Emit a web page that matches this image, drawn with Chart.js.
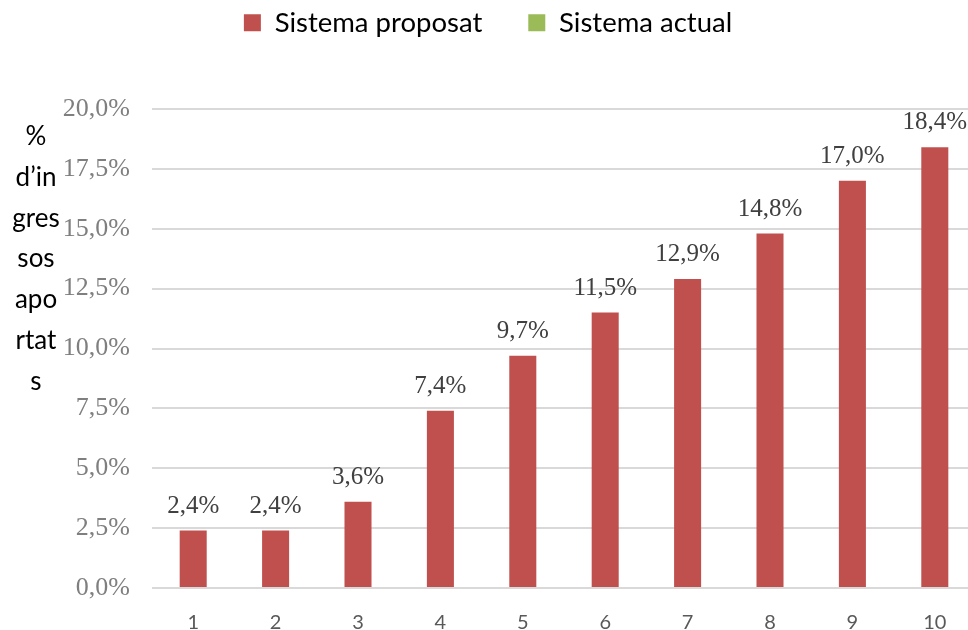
<!DOCTYPE html>
<html>
<head>
<meta charset="utf-8">
<script src="https://cdn.jsdelivr.net/npm/chart.js@4/dist/chart.umd.min.js"></script>
<style>
html,body{margin:0;padding:0;background:#fff;overflow:hidden;}
#wrap{position:relative;width:976px;height:630px;}
</style>
</head>
<body>
<div id="wrap"><canvas id="c"></canvas></div>
<script>
const categories = ['1','2','3','4','5','6','7','8','9','10'];
const proposat = [2.4, 2.4, 3.6, 7.4, 9.7, 11.5, 12.9, 14.8, 17.0, 18.4];
const actual = [null, null, null, null, null, null, null, null, null, null];
const seriesNames = ['Sistema proposat', 'Sistema actual'];
const yTitleLines = ['%', 'd\u2019in', 'gres', 'sos', 'apo', 'rtat', 's'];

const fmt = v => v.toFixed(1).replace('.', ',') + '%';

const legendFix = {
  id: 'legendFix',
  beforeInit(chart) {
    const fit = chart.legend.fit;
    chart.legend.fit = function () {
      fit.call(this);
      this.height = 109;
    };
  },
  beforeDraw(chart) {
    chart.legend.top = -37;
  }
};

const yTitle = {
  id: 'yTitle',
  afterDraw(chart) {
    const ctx = chart.ctx;
    ctx.save();
    ctx.font = '26px Lato';
    ctx.fillStyle = '#000000';
    ctx.textAlign = 'center';
    ctx.textBaseline = 'alphabetic';
    yTitleLines.forEach((t, i) => ctx.fillText(t, 36, 145 + i * 40.8));
    ctx.restore();
  }
};

const dataLabels = {
  id: 'dataLabels',
  afterDatasetsDraw(chart) {
    const ctx = chart.ctx;
    ctx.save();
    ctx.font = '25px "Liberation Serif"';
    ctx.fillStyle = '#404040';
    ctx.textAlign = 'center';
    ctx.textBaseline = 'alphabetic';
    const meta = chart.getDatasetMeta(0);
    meta.data.forEach((bar, i) => {
      const v = chart.data.datasets[0].data[i];
      if (v == null) return;
      ctx.fillText(fmt(v), bar.x, bar.y - 18);
    });
    ctx.restore();
  }
};

new Chart(document.getElementById('c'), {
  type: 'bar',
  data: {
    labels: categories,
    datasets: [
      { label: seriesNames[0], data: proposat, backgroundColor: '#c0504d', borderWidth: 0 },
      { label: seriesNames[1], data: actual, backgroundColor: '#9bbb59', borderWidth: 0 }
    ]
  },
  options: {
    responsive: true,
    maintainAspectRatio: false,
    animation: false,
    grouped: false,
    categoryPercentage: 0.8,
    barPercentage: 0.41,
    layout: { padding: 0 },
    plugins: {
      tooltip: { enabled: false },
      legend: {
        position: 'top',
        labels: {
          boxWidth: 17,
          boxHeight: 17,
          padding: 46,
          color: '#000000',
          font: { family: 'Lato', size: 27.5 }
        }
      }
    },
    scales: {
      x: {
        grid: { display: false },
        border: { display: false },
        ticks: { color: '#595959', font: { family: 'Lato', size: 20 }, padding: 15 },
        afterFit(scale) { scale.height = 42; }
      },
      y: {
        min: 0,
        max: 20,
        grid: { color: '#d9d9d9', lineWidth: 2, drawTicks: false },
        border: { display: false },
        ticks: {
          stepSize: 2.5,
          color: '#7f7f7f',
          padding: 22,
          font: { family: 'Liberation Serif', size: 26 },
          callback: v => fmt(v)
        },
        afterFit(scale) { scale.width = 152; }
      }
    }
  },
  plugins: [legendFix, yTitle, dataLabels]
});
</script>
</body>
</html>
